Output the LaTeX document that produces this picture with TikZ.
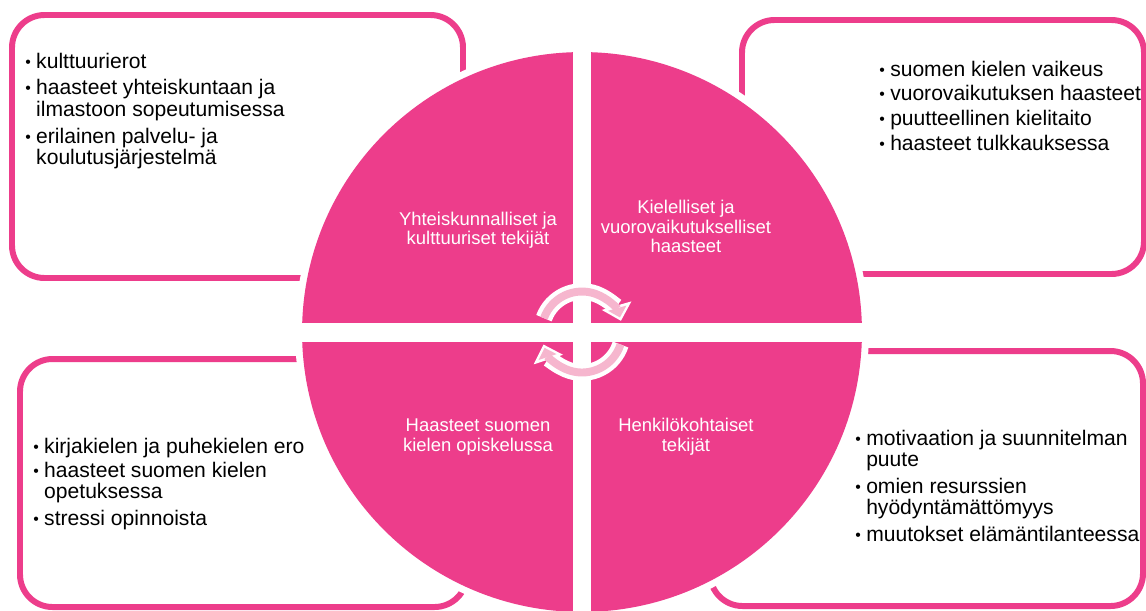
\documentclass[tikz,border=0pt]{standalone}
\usepackage{fontspec}
\setmainfont{Liberation Sans}
\usepackage{graphicx}
\usepackage{tikz}
\usetikzlibrary{arrows.meta, positioning}
\definecolor{kpink}{RGB}{237,61,139}
\definecolor{kpinklt}{RGB}{246,182,206}
\tikzstyle{infobox}=[draw=kpink, line width=3.4pt, rounded corners=0.65cm, fill=white]
\tikzstyle{itemlist}=[anchor=base west, inner sep=0pt, font=\fontsize{12}{12.1}\selectfont]
\tikzstyle{topic}=[align=center, text=white, inner sep=0pt, node distance=4.16cm, font=\fontsize{10.5}{11.1}\selectfont]
\tikzstyle{turn}=[draw=white, line width=9.5pt, -{Triangle[width=17pt,length=9pt]}]
\tikzstyle{turnin}=[draw=kpinklt, line width=4.5pt, -{Triangle[width=10.5pt,length=5.5pt]}, shorten >=2pt]
\newcommand{\blt}{\makebox[6.2pt][l]{\raisebox{0.5pt}{\scalebox{0.75}{\textbullet}}}}

\begin{document}
\begin{tikzpicture}[x=0.02cm, y=-0.02cm]
  \useasboundingbox (0,0) rectangle (1146,610);
  \coordinate (c) at (582,332);

  % outer boxes
  \draw[infobox] (12,15) rectangle (463,278);
  \draw[infobox] (742,20) rectangle (1144,274);
  \draw[infobox] (20,359) rectangle (467,607);
  \draw[infobox] (710,351) rectangle (1143,606);

  \node[itemlist] (yhtlist) at (25,68) {\begin{tabular}[t]{@{}l@{}l@{}}
    \blt & kulttuurierot\\[2.9pt]
    \blt & haasteet yhteiskuntaan ja\\
         & ilmastoon sopeutumisessa\\[2.9pt]
    \blt & erilainen palvelu- ja\\
         & koulutusjärjestelmä
  \end{tabular}};
  \node[itemlist] (kiellist) at (879,76) {\begin{tabular}[t]{@{}l@{}l@{}}
    \blt & suomen kielen vaikeus\\[1.8pt]
    \blt & vuorovaikutuksen haasteet\\[1.8pt]
    \blt & puutteellinen kielitaito\\[1.8pt]
    \blt & haasteet tulkkauksessa
  \end{tabular}};
  \node[itemlist] (opilist) at (33,453) {\begin{tabular}[t]{@{}l@{}l@{}}
    \blt & kirjakielen ja puhekielen ero\\[1.5pt]
    \blt & haasteet suomen kielen\\
         & opetuksessa\\[2.9pt]
    \blt & stressi opinnoista
  \end{tabular}};
  \node[itemlist] (henklist) at (855,445) {\begin{tabular}[t]{@{}l@{}l@{}}
    \blt & motivaation ja suunnitelman\\
         & puute\\[2.9pt]
    \blt & omien resurssien\\
         & hyödyntämättömyys\\[2.9pt]
    \blt & muutokset elämäntilanteessa
  \end{tabular}};

  % the circle in four parts
  \fill[white] (c) circle [radius=5.74cm];
  \fill[kpink] (c) circle [radius=5.6cm];
  \fill[white] (573,40) rectangle (591,625);
  \fill[white] (290,323) rectangle (875,342);

  \node[topic] (yht) at (478,230) {Yhteiskunnalliset ja\\kulttuuriset tekijät};
  \node[topic] (kiel) [right of=yht, yshift=2pt] {Kielelliset ja\\vuorovaikutukselliset\\haasteet};
  \node[topic] (opi) [below of=yht, node distance=4.14cm] {Haasteet suomen\\kielen opiskelussa};
  \node[topic] (henk) [right of=opi] {Henkilökohtaiset\\tekijät};

  % turning arrows
  \draw[turn] (c) ++(160:0.81cm) arc[start angle=160, end angle=16, radius=0.81cm];
  \draw[turnin] (c) ++(160:0.81cm) arc[start angle=160, end angle=16, radius=0.81cm];
  \draw[turn] (c) ++(-18:0.81cm) arc[start angle=-18, end angle=-162, radius=0.81cm];
  \draw[turnin] (c) ++(-18:0.81cm) arc[start angle=-18, end angle=-162, radius=0.81cm];
\end{tikzpicture}
\end{document}
